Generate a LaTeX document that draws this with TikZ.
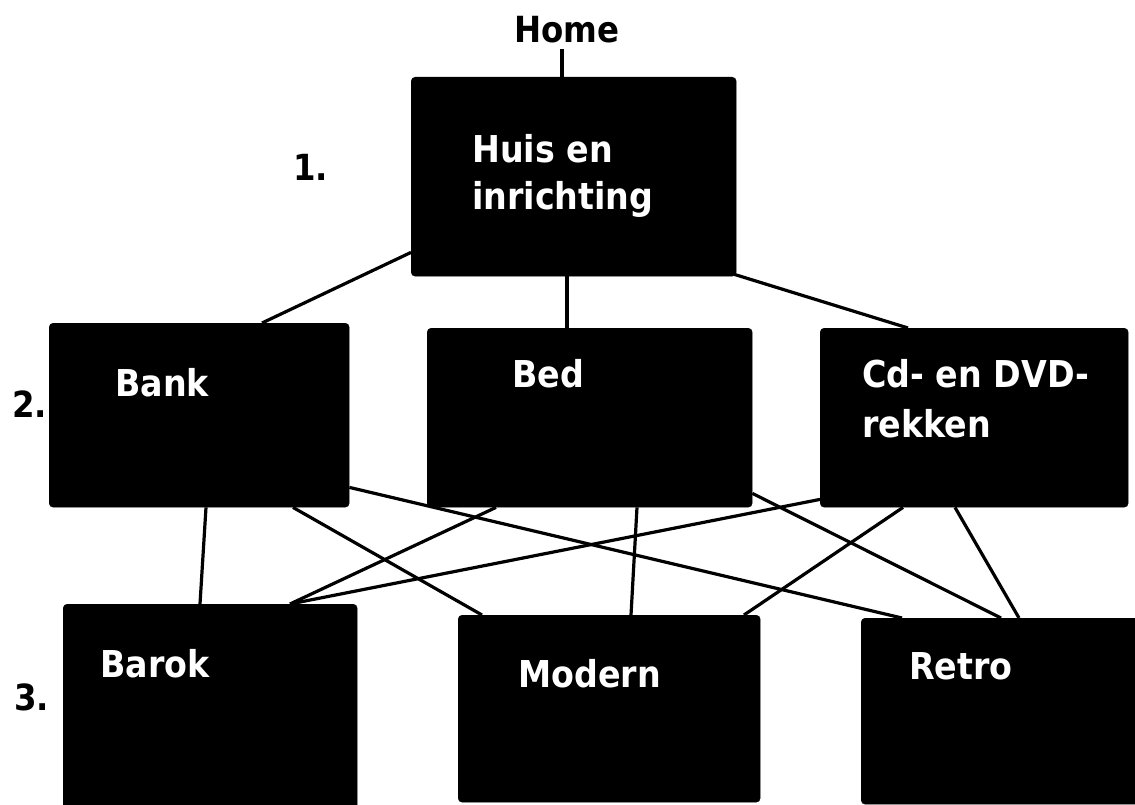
\documentclass[tikz,border=0pt]{standalone}
\usepackage{fontspec}
\setmainfont{DejaVu Sans}[FakeStretch=0.9]
\begin{document}
\begin{tikzpicture}[x=1pt,y=-1pt,
  box/.style={fill=black,draw=black,rounded corners=4pt,inner sep=0pt,anchor=north west},
  txt/.style={text=white,font=\fontsize{37}{44}\selectfont\bfseries,inner sep=0pt,anchor=base west},
  lbl/.style={text=black,font=\fontsize{36}{44}\selectfont\bfseries,inner sep=0pt,anchor=base west},
  conn/.style={draw=black,line width=3.2pt}]
\clip (0,0) rectangle (1135,805);
% boxes
\node[box,minimum width=325,minimum height=199] (top) at (411,77) {};
\node[box,minimum width=300,minimum height=184] (bank) at (49,323) {};
\node[box,minimum width=325,minimum height=179] (bed) at (427,328) {};
\node[box,minimum width=308,minimum height=179] (cd) at (820,328) {};
\node[box,minimum width=294,minimum height=215] (barok) at (63,604) {};
\node[box,minimum width=302,minimum height=187] (modern) at (458,615) {};
\node[box,minimum width=290,minimum height=186] (retro) at (861,618) {};
% texts
\node[lbl,anchor=base] (home) at (567,43) {Home};
\node[txt] (huis1) at (472,163) {Huis en};
\node[txt] (huis2) at (472,210) {inrichting};
\node[txt] (banktxt) at (115,396) {Bank};
\node[txt] (bedtxt) at (512,387) {Bed};
\node[txt] (cd1) at (862,387) {Cd- en DVD-};
\node[txt] (cd2) at (862,437) {rekken};
\node[txt] (baroktxt) at (100,677) {Barok};
\node[txt] (moderntxt) at (518,687) {Modern};
\node[txt] (retrotxt) at (909,679) {Retro};
\node[lbl] (l1) at (293,181) {1.};
\node[lbl] (l2) at (12,417) {2.};
\node[lbl] (l3) at (14,710) {3.};
% connectors
\draw[conn] ([xshift=151]top.north west) -- ([xshift=151,yshift=28]top.north west);
\draw[conn] ([yshift=24]top.south west) -- ([xshift=213]bank.north west);
\draw[conn] ([xshift=156]top.south west) -- ([xshift=140]bed.north west);
\draw[conn] ([xshift=-2,yshift=2]top.south east) -- ([xshift=88]cd.north west);
\draw[conn] ([xshift=157]bank.south west) -- ([xshift=137]barok.north west);
\draw[conn] ([xshift=244]bank.south west) -- ([xshift=24]modern.north west);
\draw[conn] ([yshift=20]bank.south east) -- ([xshift=41]retro.north west);
\draw[conn] ([xshift=69]bed.south west) -- ([xshift=227]barok.north west);
\draw[conn] ([xshift=210]bed.south west) -- ([xshift=173]modern.north west);
\draw[conn] ([yshift=14]bed.south east) -- ([xshift=140]retro.north west);
\draw[conn] ([yshift=8]cd.south west) -- ([xshift=227]barok.north west);
\draw[conn] ([xshift=83]cd.south west) -- ([xshift=286]modern.north west);
\draw[conn] ([xshift=135]cd.south west) -- ([xshift=158]retro.north west);
\end{tikzpicture}
\end{document}
